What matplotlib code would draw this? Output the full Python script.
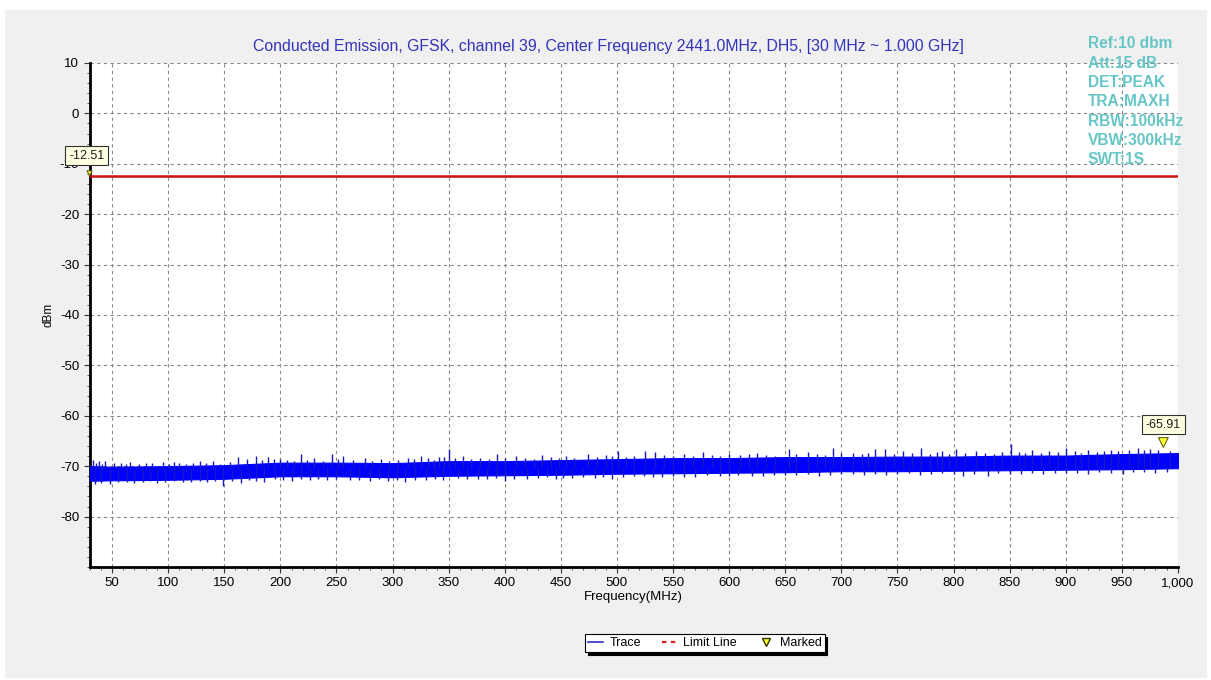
import matplotlib
matplotlib.use("Agg")
import matplotlib.pyplot as plt
from matplotlib.lines import Line2D
from matplotlib.patches import Rectangle
from matplotlib.ticker import MultipleLocator, FuncFormatter

plt.rcParams['font.family'] = ['Liberation Sans', 'DejaVu Sans']
plt.rcParams['axes.unicode_minus'] = False

# trace envelope (dense part of the noise), read every 50 MHz
env_mhz = [30, 50, 100, 150, 200, 250, 300, 350, 400, 450, 500,
           550, 600, 650, 700, 750, 800, 850, 900, 950, 1000]
env_top = [-70.0, -70.1, -70.0, -69.8, -69.3, -69.3, -69.4, -69.0, -69.0, -68.8, -68.6,
           -68.4, -68.4, -68.2, -68.2, -68.1, -68.1, -67.9, -67.9, -67.6, -67.4]
env_bot = [-72.9, -72.8, -72.7, -72.5, -72.0, -72.0, -72.2, -71.9, -71.8, -71.7, -71.5,
           -71.4, -71.3, -71.2, -71.0, -71.0, -70.9, -70.8, -70.7, -70.6, -70.4]

# tall spikes sticking out of the band
up_mhz = [33, 38, 44, 58, 66, 80, 95, 110, 128, 140, 162, 170, 178, 189, 200, 218, 230,
          246, 256, 275, 290, 314, 325, 341, 350, 363, 393, 410, 433, 455, 474, 490, 501,
          525, 534, 560, 577, 600, 625, 653, 670, 693, 710, 730, 739, 755, 771, 790, 802,
          820, 851, 870, 900, 920, 940, 964, 975]
up_dbm = [-68.8, -69.0, -68.9, -69.3, -69.1, -69.4, -69.2, -69.3, -69.0, -68.9, -68.2,
          -68.6, -68.0, -68.1, -68.5, -67.6, -68.3, -67.6, -68.0, -68.4, -68.6, -68.3,
          -68.0, -68.2, -66.6, -68.0, -67.6, -68.0, -67.8, -67.9, -67.6, -67.7, -66.9,
          -66.9, -67.2, -67.5, -67.2, -67.6, -67.4, -66.6, -67.2, -66.4, -67.3, -66.6,
          -66.6, -67.0, -66.4, -67.0, -66.6, -66.9, -65.6, -66.8, -66.3, -66.8, -66.7,
          -66.3, -66.5]
down_mhz = [35, 48, 70, 90, 120, 149, 165, 185, 210, 262, 280, 311, 330, 376, 400, 420,
            460, 496, 515, 540, 570, 592, 620, 650, 680, 710, 740, 770, 808, 831, 860,
            890, 920, 951, 980]
down_dbm = [-73.6, -73.6, -73.4, -73.3, -73.2, -73.9, -73.3, -73.2, -73.0, -72.8, -73.0,
            -73.2, -72.8, -72.5, -72.9, -72.6, -72.4, -72.5, -71.9, -72.2, -72.1, -71.9,
            -72.0, -71.8, -71.9, -71.6, -71.8, -71.7, -71.9, -71.9, -71.6, -71.4, -71.5,
            -71.6, -71.3]

# shorter spikes that make the band edge ragged
small_up_mhz = [36, 41, 52, 62, 74, 86, 101, 105, 116, 122, 134, 146, 155, 184, 194, 206,
                212, 224, 238, 251, 265, 282, 297, 305, 319, 332, 337, 346, 356, 370, 378,
                386, 400, 418, 426, 441, 448, 462, 482, 496, 508, 515, 542, 550, 568, 585,
                592, 610, 618, 633, 641, 660, 678, 685, 700, 718, 724, 747, 763, 779, 785,
                796, 810, 828, 836, 843, 858, 864, 878, 885, 893, 908, 914, 928, 934, 947,
                956, 970, 982, 993]
small_up_dbm = [-69.3, -69.5, -69.4, -69.6, -69.5, -69.4, -69.5, -69.1, -69.6, -69.4, -69.3,
                -69.5, -69.2, -68.8, -68.6, -68.7, -68.9, -68.7, -68.9, -68.5, -68.8, -68.9,
                -68.9, -68.7, -68.6, -68.4, -68.7, -68.1, -68.4, -68.5, -68.3, -68.6, -68.4,
                -68.3, -68.6, -68.2, -68.4, -68.3, -68.2, -68.0, -68.1, -67.9, -67.8, -68.0,
                -67.9, -67.7, -67.9, -67.8, -67.6, -67.7, -67.9, -67.5, -67.6, -67.7, -67.4,
                -67.6, -67.3, -67.5, -67.3, -67.5, -67.2, -67.6, -67.4, -67.3, -67.5, -67.2,
                -67.1, -67.4, -67.3, -67.0, -67.2, -67.0, -67.3, -67.1, -66.9, -67.0, -66.8,
                -66.7, -66.8, -66.9]
small_down_mhz = [40, 55, 63, 78, 84, 97, 105, 113, 128, 135, 142, 157, 172, 178, 195, 202,
                  218, 226, 234, 242, 250, 270, 288, 296, 304, 320, 338, 345, 358, 366, 384,
                  392, 408, 430, 438, 446, 452, 470, 480, 488, 505, 524, 532, 550, 560, 580,
                  600, 608, 630, 640, 660, 670, 690, 700, 720, 730, 750, 760, 780, 790, 800,
                  818, 840, 850, 870, 880, 900, 910, 930, 940, 960, 970, 990]
small_down_dbm = [-73.3, -73.2, -73.1, -73.2, -73.0, -73.1, -72.9, -73.2, -73.0, -73.1, -72.9,
                  -73.0, -72.8, -73.0, -72.6, -72.8, -72.6, -72.7, -72.5, -72.8, -72.6, -72.7,
                  -72.6, -72.9, -72.7, -72.8, -72.5, -72.7, -72.4, -72.6, -72.5, -72.3, -72.6,
                  -72.4, -72.2, -72.5, -72.3, -72.2, -72.4, -72.1, -72.2, -72.0, -72.1, -71.9,
                  -72.1, -71.8, -72.0, -71.7, -71.9, -71.7, -71.8, -71.6, -71.7, -71.5, -71.8,
                  -71.5, -71.6, -71.4, -71.6, -71.4, -71.5, -71.6, -71.4, -71.5, -71.3, -71.5,
                  -71.3, -71.4, -71.2, -71.4, -71.2, -71.1, -71.2]

limit_dbm = -12.51
markers_mhz = [30, 987]
markers_dbm = [-12.51, -65.91]

title = "Conducted Emission, GFSK, channel 39, Center Frequency 2441.0MHz, DH5, [30 MHz ~ 1.000 GHz]"
info_lines = ["Ref:10 dbm", "Att:15 dB", "DET:PEAK", "TRA:MAXH",
              "RBW:100kHz", "VBW:300kHz", "SWT:1S"]

fig = plt.figure(figsize=(12.11, 6.80), dpi=100, facecolor="white")
fig.patches.append(Rectangle((5 / 1211, 2 / 680), 1202 / 1211, 668 / 680,
                             transform=fig.transFigure, facecolor="#f0f0f0",
                             edgecolor="none", zorder=-10))

ax = fig.add_axes([0.074, 0.1662, 0.8987, 0.7412])
ax.set_facecolor("white")

trace_col = "#0000ff"
spike_col = "#1818c0"
ax.fill_between(env_mhz, env_bot, env_top, color=trace_col, linewidth=0.8, zorder=3)
all_f = up_mhz + down_mhz + small_up_mhz + small_down_mhz
all_v = up_dbm + down_dbm + small_up_dbm + small_down_dbm
for f, v in zip(all_f, all_v):
    ax.vlines(f, v, -70.3, color=spike_col, linewidth=1.0, zorder=3)

ax.axhline(limit_dbm, color="#cc1010", linewidth=1.8, zorder=4)

ax.scatter(markers_mhz, [m + 0.6 for m in markers_dbm], marker="v", s=[14, 50],
           facecolor="#ffff30", edgecolor="#505000", linewidth=0.7, zorder=6, clip_on=False)

for f, v, dx in zip(markers_mhz, markers_dbm, [-2, 0]):
    ax.annotate(f"{v:.2f}", xy=(f, v), xytext=(dx, 15), textcoords="offset points",
                ha="center", va="center", fontsize=9, color="#202020", zorder=7,
                annotation_clip=False,
                bbox=dict(boxstyle="square,pad=0.3", facecolor="#ffffe1",
                          edgecolor="#303030", linewidth=0.8))

ax.set_xlim(30, 1000)
ax.set_ylim(-90, 10)
ax.xaxis.set_major_locator(MultipleLocator(50))
ax.xaxis.set_minor_locator(MultipleLocator(10))
ax.set_yticks(range(-80, 11, 10))
ax.yaxis.set_minor_locator(MultipleLocator(2))
ax.xaxis.set_major_formatter(FuncFormatter(lambda v, p: f"{int(v):,}"))
ax.grid(True, which="major", color="#888888", linestyle=(0, (3, 3)), linewidth=0.8)
ax.set_axisbelow(True)

for s in ["top", "right"]:
    ax.spines[s].set_visible(False)
for s in ["left", "bottom"]:
    ax.spines[s].set_linewidth(2)
    ax.spines[s].set_color("black")
ax.tick_params(which="major", length=4, width=0.8, labelsize=9.5, color="#333333")
ax.tick_params(which="minor", length=2.5, width=0.7, color="#555555")

ax.set_xlabel("Frequency(MHz)", fontsize=9.5, labelpad=1)
ax.set_ylabel("dBm", fontsize=8.5, labelpad=4)

fig.text(0.5025, 0.932, title, ha="center", va="center", fontsize=11.4, color="#3333bb")

for i, line in enumerate(info_lines):
    fig.text(1088 / 1211, 1 - (44 + i * 19.3) / 680, line, ha="left", va="center",
             fontsize=11.2, color="#66c6c6", fontweight="bold", zorder=10)

handles = [Line2D([], [], color="#3030c0", linewidth=1.2),
           Line2D([], [], color="#dd2020", linestyle=(0, (2, 2)), linewidth=1.6),
           Line2D([], [], marker="v", linestyle="none", markerfacecolor="#ffff30",
                  markeredgecolor="#303000", markersize=6)]
leg = fig.legend(handles, ["Trace", "Limit Line", "Marked"], ncol=3,
                 loc="center", bbox_to_anchor=(0.582, 0.054), fontsize=9,
                 frameon=True, fancybox=False, shadow={"color": "black", "alpha": 1},
                 handlelength=1.2, handletextpad=0.5, columnspacing=1.7,
                 borderpad=0.25, framealpha=1)
leg.get_frame().set_edgecolor("black")
leg.get_frame().set_linewidth(0.8)

fig.savefig("out.png", dpi=100, facecolor="white")
